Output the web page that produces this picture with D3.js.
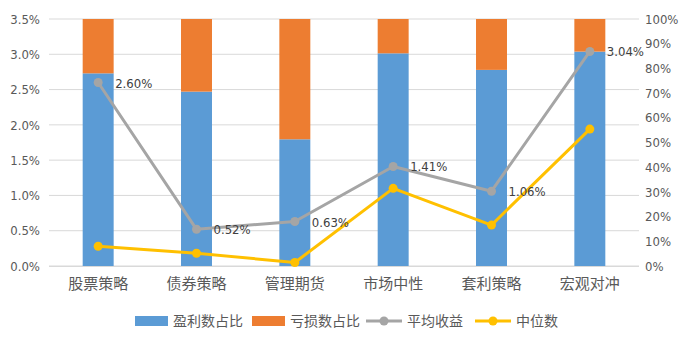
<!DOCTYPE html>
<html><head><meta charset="utf-8">
<script src="https://cdn.jsdelivr.net/npm/d3@7"></script>
<style>body{margin:0;background:#fff}</style>
</head><body><svg id="c" width="690" height="345"></svg>
<script>
const categories = ["股票策略","债券策略","管理期货","市场中性","套利策略","宏观对冲"];
const profitShare = [0.78, 0.706, 0.513, 0.861, 0.794, 0.868];
const lossShare = profitShare.map(v => 1 - v);
const avgReturn = [0.0260, 0.0052, 0.0063, 0.0141, 0.0106, 0.0304];
const median = [0.0028, 0.0018, 0.0005, 0.0110, 0.0058, 0.0194];
const leftTicks = [0,0.005,0.01,0.015,0.02,0.025,0.03,0.035];
const rightTicks = [0,0.1,0.2,0.3,0.4,0.5,0.6,0.7,0.8,0.9,1.0];
const legendLabels = ["盈利数占比","亏损数占比","平均收益","中位数"];

const C = {blue:"#5B9BD5", orange:"#ED7D31", gray:"#A5A5A5", yellow:"#FFC000"};
const numFont = "'Liberation Sans Narrow','DejaVu Sans Condensed','Liberation Sans',sans-serif";
const cjk = "'Noto Sans CJK SC',sans-serif";
const svg = d3.select("#c");
const L = 49, R = 639, T = 19, B = 266;
const x = d3.scaleBand().domain(categories).range([L,R]).paddingInner(0.685).paddingOuter(0.3425);
const yL = d3.scaleLinear().domain([0,0.035]).range([B,T]);
const yR = d3.scaleLinear().domain([0,1]).range([B,T]);

// grid
svg.append("g").selectAll("line").data(leftTicks).join("line")
  .attr("x1",L).attr("x2",R).attr("y1",d=>yL(d)).attr("y2",d=>yL(d))
  .attr("stroke","#D9D9D9").attr("stroke-width",1);

// axes
const gl = svg.append("g").attr("transform",`translate(${L},0)`)
  .call(d3.axisLeft(yL).tickValues(leftTicks).tickFormat(d3.format(".1%")).tickSize(0).tickPadding(9));
const gr = svg.append("g").attr("transform",`translate(${R},0)`)
  .call(d3.axisRight(yR).tickValues(rightTicks).tickFormat(d3.format(".0%")).tickSize(0).tickPadding(6));
[gl,gr].forEach(g=>{g.select(".domain").remove();
  g.selectAll("text").attr("fill","#595959").style("font-family",numFont).style("font-size","13px");});

// bars
const bw = x.bandwidth();
svg.append("g").selectAll("rect").data(categories).join("rect")
  .attr("x",d=>x(d)).attr("width",bw)
  .attr("y",(d,i)=>yR(profitShare[i])).attr("height",(d,i)=>yR(0)-yR(profitShare[i]))
  .attr("fill",C.blue);
svg.append("g").selectAll("rect").data(categories).join("rect")
  .attr("x",d=>x(d)).attr("width",bw)
  .attr("y",(d,i)=>yR(profitShare[i]+lossShare[i])).attr("height",(d,i)=>yR(profitShare[i])-yR(profitShare[i]+lossShare[i]))
  .attr("fill",C.orange);

// x axis line
svg.append("line").attr("x1",L).attr("x2",R).attr("y1",B+0.5).attr("y2",B+0.5).attr("stroke","#D9D9D9");
const gx = svg.append("g").attr("transform",`translate(0,${B})`)
  .call(d3.axisBottom(x).tickSize(0).tickPadding(12));
gx.select(".domain").remove();
gx.selectAll("text").attr("fill","#595959").style("font-family",cjk).style("font-size","15px");

const cx = d => x(d)+bw/2;
function series(vals,color){
  const line = d3.line().x((d,i)=>cx(categories[i])).y(d=>yL(d));
  svg.append("path").datum(vals).attr("d",line).attr("fill","none")
    .attr("stroke",color).attr("stroke-width",3).attr("stroke-linejoin","round");
  svg.append("g").selectAll("circle").data(vals).join("circle")
    .attr("cx",(d,i)=>cx(categories[i])).attr("cy",d=>yL(d)).attr("r",4.5).attr("fill",color);
}
series(avgReturn,C.gray);
series(median,C.yellow);

// data labels
svg.append("g").selectAll("text").data(avgReturn).join("text")
  .attr("x",(d,i)=>cx(categories[i])+17).attr("y",d=>yL(d)+5)
  .attr("fill","#404040").style("font-family",numFont).style("font-size","13px")
  .text(d=>d3.format(".2%")(d));

// legend
const lg = svg.append("g").attr("transform","translate(0,321)");
const items = [
  {x:135, type:"rect", color:C.blue},
  {x:252, type:"rect", color:C.orange},
  {x:366, type:"line", color:C.gray},
  {x:475, type:"line", color:C.yellow}
];
items.forEach((it,i)=>{
  if(it.type==="rect"){
    lg.append("rect").attr("x",it.x).attr("y",-5).attr("width",33).attr("height",10).attr("fill",it.color);
  } else {
    lg.append("line").attr("x1",it.x).attr("x2",it.x+36).attr("y1",0).attr("y2",0).attr("stroke",it.color).attr("stroke-width",3);
    lg.append("circle").attr("cx",it.x+18).attr("cy",0).attr("r",4.5).attr("fill",it.color);
  }
  lg.append("text").attr("x",it.x+(it.type==="rect"?38:41)).attr("y",5)
    .attr("fill","#595959").style("font-family",cjk).style("font-size","14px").text(legendLabels[i]);
});
</script></body></html>
